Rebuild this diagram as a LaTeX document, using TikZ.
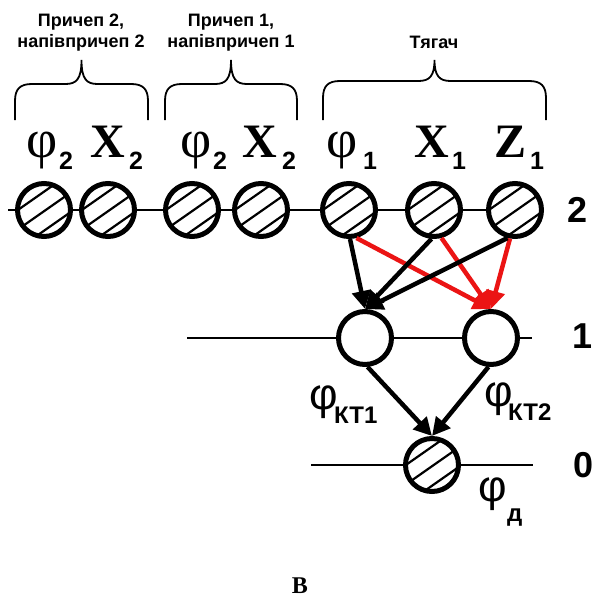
\documentclass[tikz,border=0pt]{standalone}
\usepackage{fontspec}
\setmainfont{Liberation Serif}
\newfontfamily\sansfam{Liberation Sans}
\usetikzlibrary{arrows.meta,calc,backgrounds}

\definecolor{linkred}{RGB}{235,20,20}

\tikzset{
  hatchnode/.style={circle, draw, line width=5pt, minimum size=53pt, inner sep=0pt, fill=white,
    path picture={\foreach \hh in {-15,1,17}{%
      \draw[line width=2.2pt]
        ($(path picture bounding box.center)+({\hh*sin(35)+45*cos(35)},{\hh*cos(35)-45*sin(35)})$) --
        ($(path picture bounding box.center)+({\hh*sin(35)-45*cos(35)},{\hh*cos(35)+45*sin(35)})$);}}},
  plainnode/.style={circle, draw, line width=5pt, minimum size=53pt, inner sep=0pt, fill=white},
  hline/.style={line width=1.8pt},
  arr/.style={line width=4.5pt, -{Triangle[length=18pt,width=18pt]}},
  blackarr/.style={arr, draw=black, fill=black},
  redarr/.style={arr, draw=linkred, fill=linkred},
  curly/.style={line width=1.8pt},
  phitop/.style={anchor=base west, inner sep=0pt, font=\fontsize{54}{54}\selectfont},
  lettop/.style={anchor=base west, inner sep=0pt, font=\fontsize{48}{48}\selectfont\bfseries},
  subtop/.style={anchor=base west, inner sep=0pt, font=\sansfam\bfseries\fontsize{25}{25}\selectfont},
  philow/.style={anchor=base west, inner sep=0pt, font=\sansfam\fontsize{44}{44}\selectfont},
  sublow/.style={anchor=base west, inner sep=0pt, font=\sansfam\bfseries\fontsize{24}{24}\selectfont},
  levlab/.style={inner sep=0pt, font=\sansfam\bfseries\fontsize{36}{36}\selectfont},
  grouplab/.style={inner sep=0pt, align=center, font=\sansfam\bfseries\fontsize{18}{21}\selectfont},
}

% brace: left x, right x, y of the horizontal run, y of the tip
\newcommand\curlybrace[4]{%
  \draw[curly] (#1,120) -- (#1,{#3+17})
    .. controls (#1,{#3+5}) and ({#1+5},#3) .. ({#1+17},#3)
    -- ({(#1+#2)/2-16},#3)
    .. controls ({(#1+#2)/2-5},#3) and ({(#1+#2)/2},{#3-5}) .. ({(#1+#2)/2},#4)
    .. controls ({(#1+#2)/2},{#3-5}) and ({(#1+#2)/2+5},#3) .. ({(#1+#2)/2+16},#3)
    -- ({#2-17},#3)
    .. controls ({#2-5},#3) and (#2,{#3+5}) .. (#2,{#3+17})
    -- (#2,120);}

\begin{document}
\begin{tikzpicture}[x=1pt,y=-1pt]
\useasboundingbox (0,0) rectangle (596,600);

% level 2: generalised coordinates
\node[hatchnode] (a1) at (44,210) {};
\node[hatchnode] (a2) at (108,210) {};
\node[hatchnode] (b1) at (192,210) {};
\node[hatchnode] (b2) at (261,210) {};
\node[hatchnode] (p1) at (349,210) {};
\node[hatchnode] (x1) at (434,210) {};
\node[hatchnode] (z1) at (515,210) {};

% level 1
\node[plainnode] (k1) at (365,338) {};
\node[plainnode] (k2) at (491,338) {};

% level 0
\node[hatchnode] (d) at (432,465) {};

% line ends
\coordinate (l2s) at (8,210);
\coordinate (l1s) at (187,338);
\coordinate (l1e) at (532,338);
\coordinate (l0s) at (311,465);
\coordinate (l0e) at (533,465);

\begin{scope}[on background layer]
  \fill[white] (0,0) rectangle (596,600);
  \draw[hline] (l2s) -- (z1.center);
  \draw[hline] (l1s) -- (l1e);
  \draw[hline] (l0s) -- (l0e);
\end{scope}

% connections
\draw[redarr] (p1.-75) -- (k2.north);
\draw[redarr] (x1.-75) -- (k2.north);
\draw[redarr] (z1.-100) -- (k2.north);
\draw[blackarr] (p1.-88) -- (k1.north);
\draw[blackarr] (x1.-95) -- (k1.north);
\draw[blackarr] (z1.-105) -- (k1.north);
\draw[blackarr] (k1.-85) -- (d.north);
\draw[blackarr] (k2.-95) -- (d.north);

% symbols above level 2
\node[phitop] (sa1) at (26,157) {φ};
\node[subtop] (sa1s) at (59,169) {2};
\node[lettop] (sa2) at (90,157) {X};
\node[subtop] (sa2s) at (129,169) {2};
\node[phitop] (sb1) at (180,157) {φ};
\node[subtop] (sb1s) at (213,169) {2};
\node[lettop] (sb2) at (242,157) {X};
\node[subtop] (sb2s) at (282,169) {2};
\node[phitop] (sp1) at (326,157) {φ};
\node[subtop] (sp1s) at (363,169) {1};
\node[lettop] (sx1) at (414,157) {X};
\node[subtop] (sx1s) at (452,169) {1};
\node[lettop] (sz1) at (494,157) {Z};
\node[subtop] (sz1s) at (530,169) {1};

% symbols at levels 1 and 0
\node[philow] (sk1) at (309,409) {φ};
\node[sublow] (sk1s) at (334,423) {КТ1};
\node[philow] (sk2) at (484,406) {φ};
\node[sublow] (sk2s) at (508,420) {КТ2};
\node[philow] (sd) at (478,501) {φ};
\node[sublow] (sds) at (507,521) {д};

% level numbers
\node[levlab] (n2) at (578,210) {2};
\node[levlab] (n1) at (583,336) {1};
\node[levlab] (n0) at (584,465) {0};

% groups
\curlybrace{15}{148}{84}{60}
\curlybrace{165}{297}{84}{60}
\curlybrace{323}{546}{81}{60}
\node[grouplab, anchor=north] (g2) at (81,14) {Причеп 2,\\напівпричеп 2};
\node[grouplab, anchor=north] (g1) at (231,14) {Причеп 1,\\напівпричеп 1};
\node[grouplab, anchor=base] (g0) at (434,48) {Тягач};

% caption
\node[inner sep=0pt, font=\fontsize{24}{24}\selectfont\bfseries] (cap) at (300,586) {В};
\end{tikzpicture}
\end{document}
